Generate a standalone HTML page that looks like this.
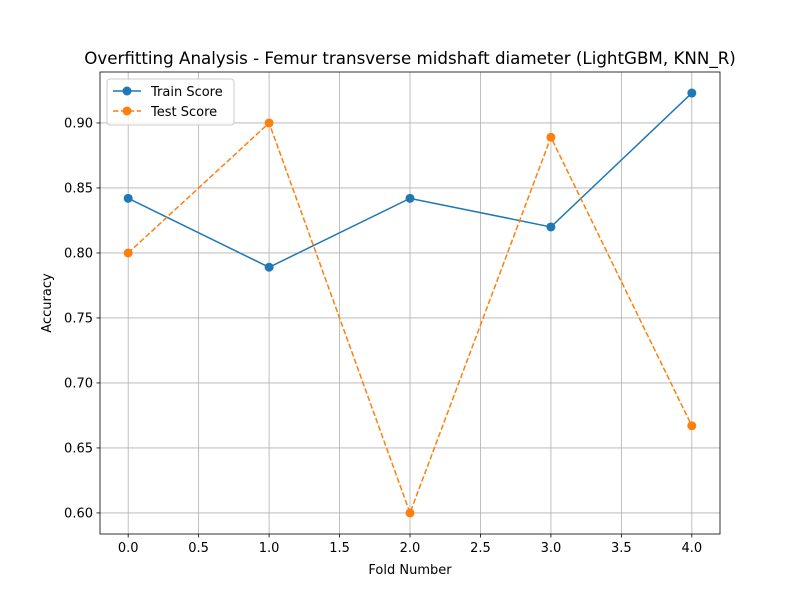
<!DOCTYPE html>
<html><head><meta charset="utf-8"><style>
body{margin:0;background:#fff;}
svg text{font-family:"DejaVu Sans","Liberation Sans",sans-serif;fill:#000;}
</style></head><body>
<svg id="chart" width="800" height="600" xmlns="http://www.w3.org/2000/svg">
<rect width="800" height="600" fill="#fff"/>
<g id="grid"></g>
<g id="ticks"></g>
<g id="series"></g>
<rect x="100" y="72" width="620" height="462" fill="none" stroke="#000" stroke-width="0.8"/>
<text x="410" y="64" text-anchor="middle" font-size="16.7">Overfitting Analysis - Femur transverse midshaft diameter (LightGBM, KNN_R)</text>
<text x="410" y="574" text-anchor="middle" font-size="13">Fold Number</text>
<text x="51" y="303" text-anchor="middle" font-size="13" transform="rotate(-90 51 303)">Accuracy</text>
<g>
<rect x="107" y="79" width="127" height="46" rx="3" fill="#fff" fill-opacity="0.8" stroke="#ccc"/>
<line x1="113" y1="91" x2="141" y2="91" stroke="#1f77b4" stroke-width="1.5"/>
<circle cx="127" cy="91" r="4.5" fill="#1f77b4"/>
<text x="151" y="96" font-size="13">Train Score</text>
<line x1="113" y1="111" x2="141" y2="111" stroke="#ff7f0e" stroke-width="1.5" stroke-dasharray="5.5,2.4"/>
<circle cx="127" cy="111" r="4.5" fill="#ff7f0e"/>
<text x="151" y="116" font-size="13">Test Score</text>
</g>
</svg>
<script>
const folds=[0,1,2,3,4];
const trainScores=[0.842,0.789,0.842,0.820,0.923];
const testScores=[0.800,0.900,0.600,0.889,0.667];
const xTicks=[0,0.5,1,1.5,2,2.5,3,3.5,4];
const yTicks=[0.60,0.65,0.70,0.75,0.80,0.85,0.90];
const X0=100,X1=720,Y0=534,Y1=72,xmin=-0.2,xmax=4.2,ymin=0.5838,ymax=0.9392;
const sx=v=>X0+(v-xmin)/(xmax-xmin)*(X1-X0);
const sy=v=>Y0-(v-ymin)/(ymax-ymin)*(Y0-Y1);
const NS="http://www.w3.org/2000/svg";
function mk(p,t,a){const e=document.createElementNS(NS,t);for(const k in a)e.setAttribute(k,a[k]);p.appendChild(e);return e;}
const grid=document.getElementById('grid'),ticks=document.getElementById('ticks'),ser=document.getElementById('series');
xTicks.forEach(v=>{const x=sx(v);
let g=mk(grid,'line',{x1:x,x2:x,y1:Y1,y2:Y0,stroke:'#b0b0b0','stroke-width':0.8});

mk(ticks,'line',{x1:x,x2:x,y1:Y0,y2:Y0+3.5,stroke:'#000','stroke-width':0.8});
let t=mk(ticks,'text',{x:x,y:Y0+18,'text-anchor':'middle','font-size':13});t.textContent=v.toFixed(1);
});
yTicks.forEach(v=>{const y=sy(v);
let g=mk(grid,'line',{x1:X0,x2:X1,y1:y,y2:y,stroke:'#b0b0b0','stroke-width':0.8});

mk(ticks,'line',{x1:X0-3.5,x2:X0,y1:y,y2:y,stroke:'#000','stroke-width':0.8});
let t=mk(ticks,'text',{x:X0-7,y:y+4.5,'text-anchor':'end','font-size':13});t.textContent=v.toFixed(2);
});
function draw(vals,color,dash,name){
const pts=folds.map((f,i)=>sx(f)+','+sy(vals[i])).join(' ');
const a={points:pts,fill:'none',stroke:color,'stroke-width':1.5};if(dash)a['stroke-dasharray']=dash;
let l=mk(ser,'polyline',a);
folds.forEach((f,i)=>{let c=mk(ser,'circle',{cx:sx(f),cy:sy(vals[i]),r:4.5,fill:color});
});}
draw(trainScores,'#1f77b4',null,'train');
draw(testScores,'#ff7f0e','5.5,2.4','test');
</script>
</body></html>
